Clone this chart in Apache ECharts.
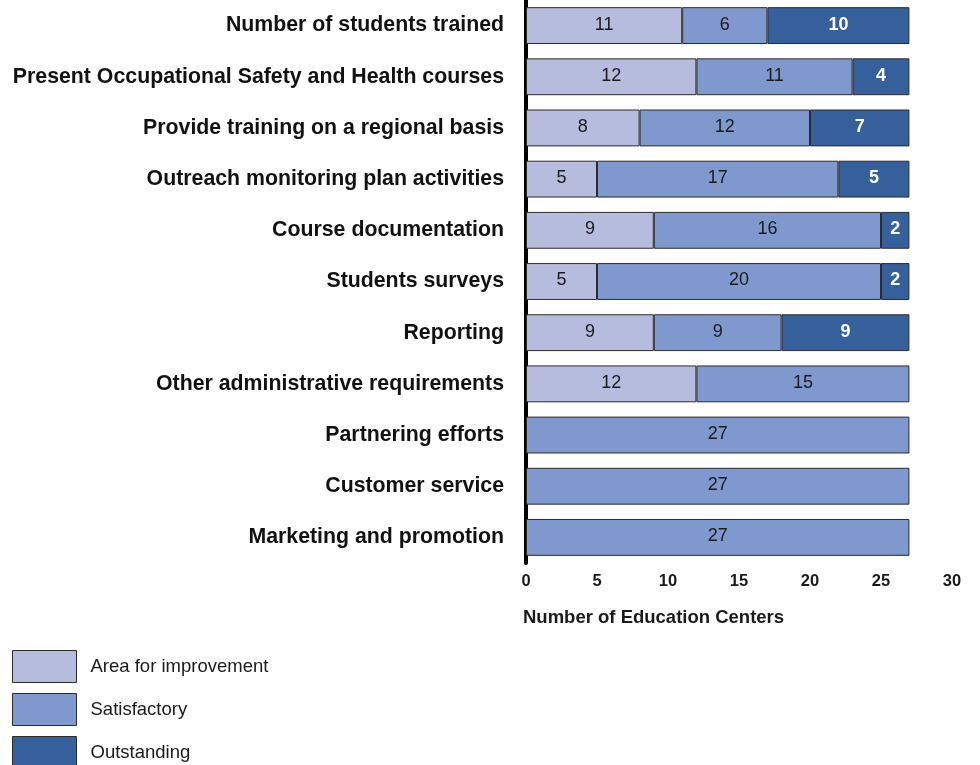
<!DOCTYPE html>
<html>
<head>
<meta charset="utf-8">
<script src="https://cdn.jsdelivr.net/npm/echarts@6/dist/echarts.min.js"></script>
<style>
  html, body { margin: 0; padding: 0; background: #fff; }
  #chart { width: 980px; height: 765px; }
</style>
</head>
<body>
<div id="chart"></div>
<script>
// Performance ratings of the education centers, by criterion
const categories = [
  'Number of students trained',
  'Present Occupational Safety and Health courses',
  'Provide training on a regional basis',
  'Outreach monitoring plan activities',
  'Course documentation',
  'Students surveys',
  'Reporting',
  'Other administrative requirements',
  'Partnering efforts',
  'Customer service',
  'Marketing and promotion'
];
const improvement  = [11, 12, 8, 5, 9, 5, 9, 12, null, null, null];
const satisfactory = [6, 11, 12, 17, 16, 20, 9, 15, 27, 27, 27];
const outstanding  = [10, 4, 7, 5, 2, 2, 9, null, null, null, null];
const xTicks = [0, 5, 10, 15, 20, 25, 30];

const font = 'Liberation Sans, Arial, Helvetica, sans-serif';
const border = { borderColor: '#2b2b2b', borderWidth: 1 };

function barSeries(name, data, color, labelStyle) {
  return {
    name: name,
    type: 'bar',
    stack: 'total',
    data: data,
    barWidth: '72%',
    itemStyle: Object.assign({ color: color }, border),
    label: Object.assign({
      show: true,
      position: 'inside',
      offset: [0, -1],
      fontFamily: font,
      fontSize: 18,
      color: '#1a1a1a'
    }, labelStyle || {})
  };
}

const chart = echarts.init(document.getElementById('chart'), null, { renderer: 'canvas' });
chart.setOption({
  animation: false,
  backgroundColor: '#ffffff',
  textStyle: { fontFamily: font },
  title: {
    text: 'Number of Education Centers',
    left: 523,
    top: 608,
    padding: 0,
    textStyle: { fontFamily: font, fontSize: 18.5, fontWeight: 'bold', color: '#1a1a1a' }
  },
  legend: {
    orient: 'vertical',
    left: 12,
    top: 650,
    height: 140,
    padding: 0,
    itemWidth: 64,
    itemHeight: 32,
    itemGap: 10,
    icon: 'rect',
    textStyle: { fontFamily: font, fontSize: 18.5, color: '#1a1a1a', padding: [2, 0, 0, 9] },
    itemStyle: border,
    data: ['Area for improvement', 'Satisfactory', 'Outstanding']
  },
  grid: { left: 526, right: 28, top: 0, height: 563, containLabel: false },
  xAxis: {
    type: 'value',
    min: xTicks[0],
    max: xTicks[xTicks.length - 1],
    interval: 5,
    axisLine: { show: false },
    axisTick: { show: false },
    splitLine: { show: false },
    axisLabel: {
      margin: 10,
      fontFamily: font,
      fontSize: 16.5,
      fontWeight: 'bold',
      color: '#1a1a1a'
    }
  },
  yAxis: {
    type: 'category',
    data: categories,
    inverse: true,
    axisLine: { show: true, lineStyle: { color: '#000', width: 4 } },
    axisTick: { show: false },
    axisLabel: {
      margin: 22,
      fontFamily: font,
      fontSize: 21.3,
      fontWeight: 'bold',
      color: '#111',
      padding: [2, 0, 0, 0]
    }
  },
  series: [
    barSeries('Area for improvement', improvement, '#b6bcdd'),
    barSeries('Satisfactory', satisfactory, '#7f98cd'),
    barSeries('Outstanding', outstanding, '#36609c', { color: '#ffffff', fontWeight: 'bold' })
  ]
});
</script>
</body>
</html>
